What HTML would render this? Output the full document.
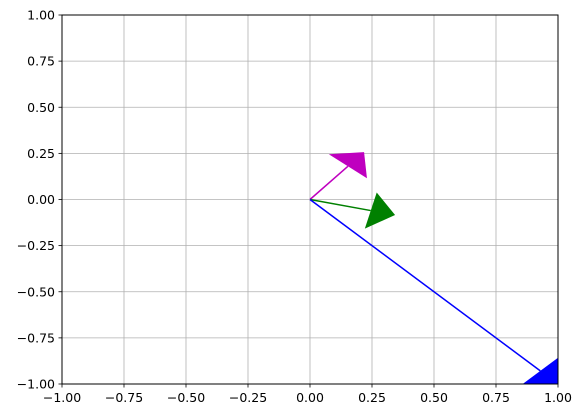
<!DOCTYPE html>
<html><head><meta charset="utf-8"><style>
html,body{margin:0;padding:0;background:#fff;}
svg{display:block;font-family:"DejaVu Sans","Liberation Sans",sans-serif;}
</style></head><body>
<svg id="chart" width="583" height="418" viewBox="0 0 583 418">
<defs><clipPath id="plotclip"><rect x="62" y="15" width="496" height="369"/></clipPath></defs>
<rect x="0" y="0" width="583" height="418" fill="#fff"/>
<g id="grid"></g>
<g id="arrows" clip-path="url(#plotclip)"></g>
<rect x="62" y="15" width="496" height="369" fill="none" stroke="#000" stroke-width="1"/>
<g id="xticks"></g>
<g id="yticks"></g>
</svg>
<script>
const xTicks = [-1, -0.75, -0.5, -0.25, 0, 0.25, 0.5, 0.75, 1];
const yTicks = [-1, -0.75, -0.5, -0.25, 0, 0.25, 0.5, 0.75, 1];
const arrowNames = ['magenta-arrow', 'green-arrow', 'blue-arrow'];
const arrowU = [0.218, 0.343, 1.0];
const arrowV = [0.257, -0.084, -1.0];
const arrowColors = ['#bf00bf', '#008000', '#0000ff'];

const NS = 'http://www.w3.org/2000/svg';
const X0 = 62, X1 = 558, Y0 = 384, Y1 = 15;
const SX = (X1 - X0) / 2, SY = (Y0 - Y1) / 2;
const HEAD_LEN = 25, HEAD_HALF = 25;
const xs = v => X0 + (v + 1) * SX;
const ys = v => Y0 - (v + 1) * SY;
function mk(tag, attrs, parent) {
  const e = document.createElementNS(NS, tag);
  for (const k in attrs) e.setAttribute(k, attrs[k]);
  parent.appendChild(e);
  return e;
}
const fmt = v => (v < 0 ? '\u2212' : '') + Math.abs(v).toFixed(2);
const grid = document.getElementById('grid');
const xg = document.getElementById('xticks');
const yg = document.getElementById('yticks');
xTicks.forEach(v => {
  const x = xs(v);
  const gl = mk('line', {x1: x, x2: x, y1: Y1, y2: Y0, stroke: '#b0b0b0', 'stroke-width': 0.8}, grid);
  
  
  const t = mk('line', {x1: x, x2: x, y1: Y0, y2: Y0 + 3.5, stroke: '#000', 'stroke-width': 0.8}, xg);
  
  
  const l = mk('text', {x: x, y: Y0 + 18, 'text-anchor': 'middle', 'font-size': 12.5, fill: '#000'}, xg);
  l.textContent = fmt(v);
  
  
});
yTicks.forEach(v => {
  const y = ys(v);
  const gl = mk('line', {x1: X0, x2: X1, y1: y, y2: y, stroke: '#b0b0b0', 'stroke-width': 0.8}, grid);
  
  
  const t = mk('line', {x1: X0 - 3.5, x2: X0, y1: y, y2: y, stroke: '#000', 'stroke-width': 0.8}, yg);
  
  
  const l = mk('text', {x: X0 - 7, y: y + 4.5, 'text-anchor': 'end', 'font-size': 12.5, fill: '#000'}, yg);
  l.textContent = fmt(v);
  
  
});
const ag = document.getElementById('arrows');
const ratio = SY / SX;
arrowU.forEach((u, i) => {
  const ox = xs(0), oy = ys(0);
  const tx = xs(u), ty = ys(arrowV[i]);
  const ex = u * SX, ey = arrowV[i] * SX;
  const L = Math.hypot(ex, ey);
  const ux = ex / L, uy = ey / L, px = -uy, py = ux;
  const toPx = (a, b) => [ox + a, oy - b * ratio];
  const bE = [ex - ux * HEAD_LEN, ey - uy * HEAD_LEN];
  const base = toPx(bE[0], bE[1]);
  const p1 = toPx(bE[0] + px * HEAD_HALF, bE[1] + py * HEAD_HALF);
  const p2 = toPx(bE[0] - px * HEAD_HALF, bE[1] - py * HEAD_HALF);
  const g = mk('g', {}, ag);
  
  
  const sh = mk('line', {x1: ox, y1: oy, x2: base[0], y2: base[1], stroke: arrowColors[i], 'stroke-width': 1.5}, g);
  
  
  const pts = [[tx, ty], p1, p2];
  const hd = mk('polygon', {points: pts.map(p => p.join(',')).join(' '), fill: arrowColors[i]}, g);
  
  
});
</script>
</body></html>
